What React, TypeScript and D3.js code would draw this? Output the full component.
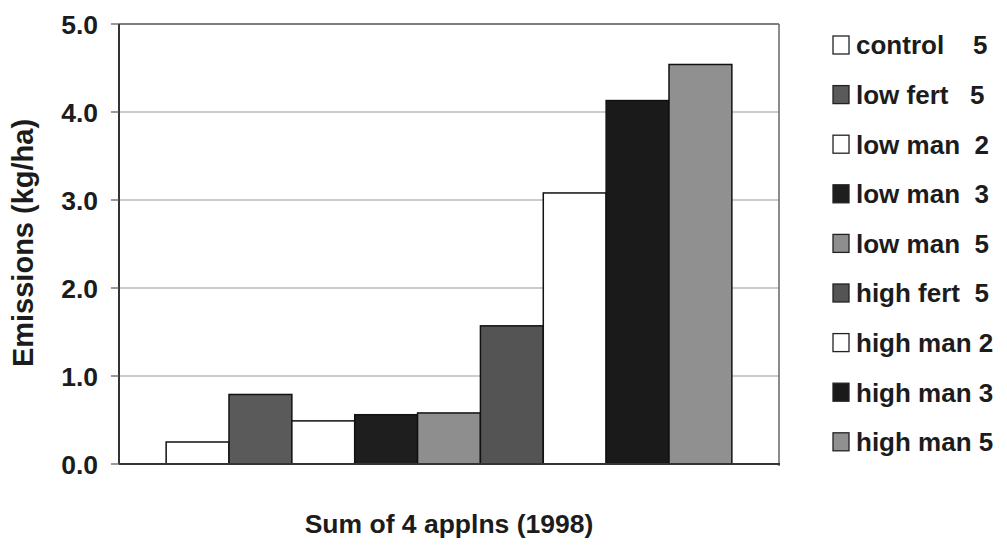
import React from "react";
import * as d3 from "d3";

const category = "Sum of 4 applns (1998)";
const seriesNames = [
  "control",
  "low fert",
  "low man 2",
  "low man 3",
  "low man 5",
  "high fert",
  "high man 2",
  "high man 3",
  "high man 5",
];
const legendLabels = [
  "control    5",
  "low fert   5",
  "low man  2",
  "low man  3",
  "low man  5",
  "high fert  5",
  "high man 2",
  "high man 3",
  "high man 5",
];
const values = [0.25, 0.79, 0.49, 0.56, 0.58, 1.57, 3.08, 4.13, 4.54];
const fills = ["#ffffff", "#5a5a5a", "#ffffff", "#1e1e1e", "#8e8e8e", "#545454", "#ffffff", "#1a1a1a", "#909090"];
const yTicks = [0, 1, 2, 3, 4, 5];

const W = 1007;
const H = 551;
const plot = { left: 119, right: 779, top: 24, bottom: 464 };
const FONT = "'Liberation Sans', Arial, sans-serif";
const TXT = "#1c1c1c";

export default function App() {
  const y = d3.scaleLinear().domain([0, 5]).range([plot.bottom, plot.top]);
  const x0 = d3.scaleBand<string>().domain([category]).range([plot.left, plot.right]).paddingInner(0).paddingOuter(1.5 / 9 / 2);
  const x1 = d3.scaleBand<string>().domain(seriesNames).range([0, x0.bandwidth()]).padding(0);
  const gx = x0(category) as number;

  return (
    <svg width={W} height={H} style={{ position: "absolute", left: 0, top: 0, background: "#fff" }} fontFamily={FONT}>
      <rect x={0} y={0} width={W} height={H} fill="#fff" />
      {/* gridlines */}
      {yTicks.filter((t) => t > 0 && t < 5).map((t) => (
        <line key={"g" + t} x1={plot.left} x2={plot.right} y1={y(t)} y2={y(t)} stroke="#9a9a9a" strokeWidth={1.2} />
      ))}
      {/* top & right border */}
      <line x1={plot.left} x2={plot.right} y1={y(5)} y2={y(5)} stroke="#555" strokeWidth={1.5} />
      <line x1={plot.right} x2={plot.right} y1={plot.top} y2={plot.bottom + 2} stroke="#666" strokeWidth={1.5} />
      {/* bars */}
      {seriesNames.map((s, i) => (
        <rect
          key={s}
          x={gx + (x1(s) as number)}
          y={y(values[i])}
          width={x1.bandwidth()}
          height={y(0) - y(values[i])}
          fill={fills[i]}
          stroke="#111"
          strokeWidth={1.5}
        />
      ))}
      {/* axes */}
      <line x1={plot.left} x2={plot.left} y1={plot.top} y2={plot.bottom} stroke="#333" strokeWidth={2} />
      <line x1={plot.left} x2={plot.right + 1} y1={plot.bottom} y2={plot.bottom} stroke="#333" strokeWidth={2} />
      {yTicks.map((t) => (
        <g key={"t" + t}>
          <line x1={plot.left - 8} x2={plot.left} y1={y(t)} y2={y(t)} stroke="#555" strokeWidth={1.2} />
          <text x={98} y={y(t)} dy="0.36em" textAnchor="end" fontSize={26.5} fontWeight="bold" fill={TXT}>
            {d3.format(".1f")(t)}
          </text>
        </g>
      ))}
      {/* axis titles */}
      <text
        transform={`translate(33, 243) rotate(-90)`}
        textAnchor="middle"
        fontSize={29}
        fontWeight="bold"
        fill={TXT}
      >
        Emissions (kg/ha)
      </text>
      <text x={(plot.left + plot.right) / 2} y={533} textAnchor="middle" fontSize={26.5} fontWeight="bold" fill={TXT}>
        {category}
      </text>
      {/* legend */}
      {legendLabels.map((lab, i) => {
        const cy = 45 + i * 49.6;
        return (
          <g key={"l" + i}>
            <rect x={833} y={cy - 9} width={16} height={18} fill={fills[i]} stroke="#222" strokeWidth={1.3} />
            <text x={856} y={cy} dy="0.36em" fontSize={26} fontWeight="bold" fill={TXT} style={{ whiteSpace: "pre" }}>
              {lab}
            </text>
          </g>
        );
      })}
    </svg>
  );
}
